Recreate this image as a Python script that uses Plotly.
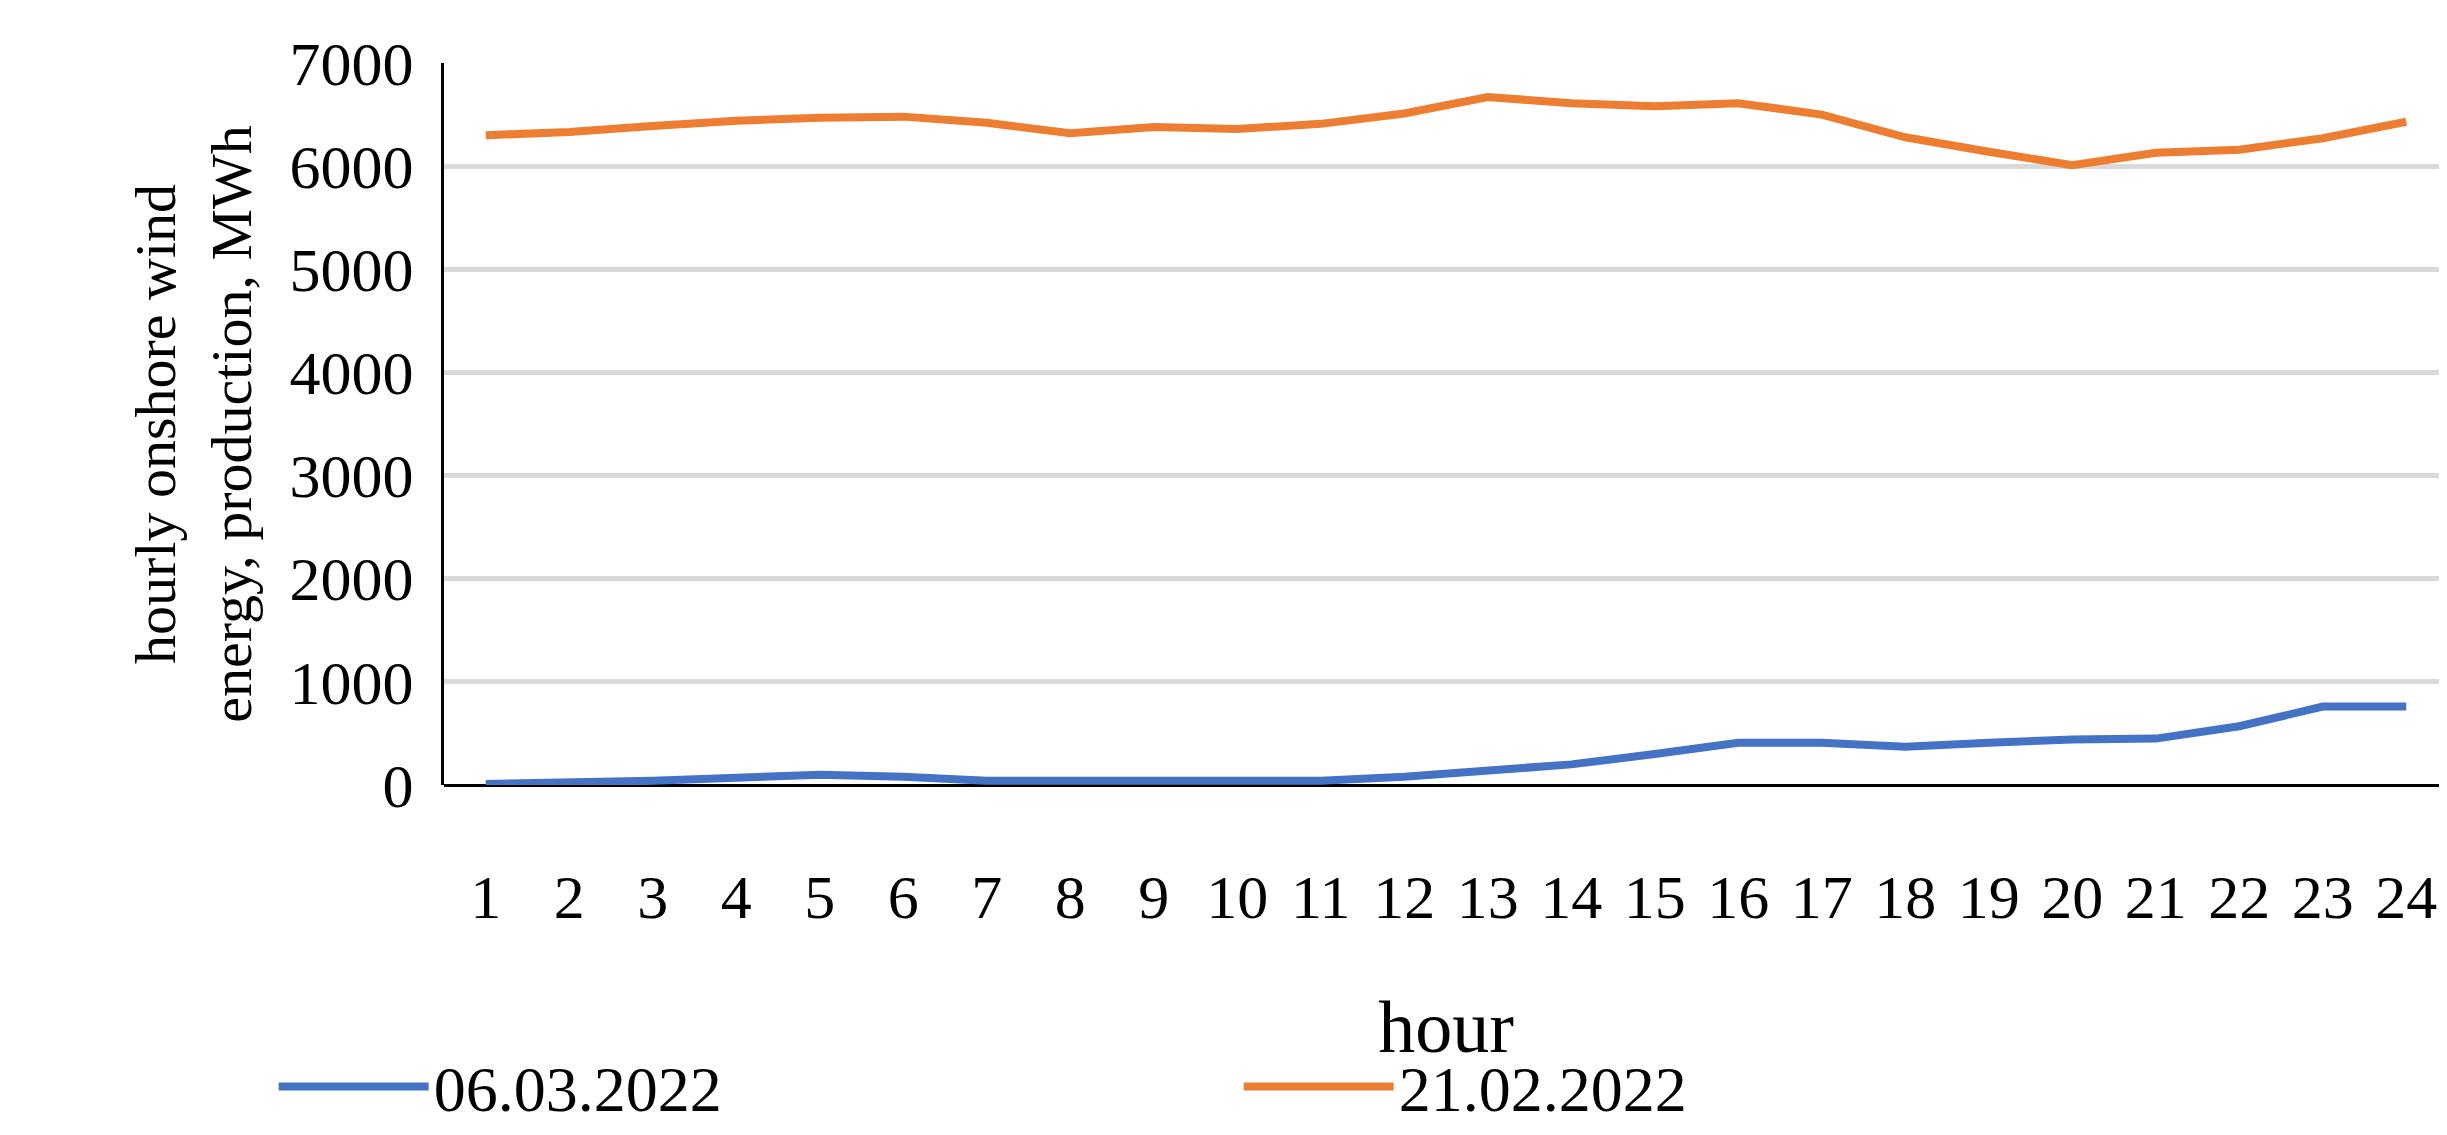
import plotly.graph_objects as go

hours = list(range(1, 25))
s_0603 = [10, 20, 40, 70, 100, 80, 40, 40, 40, 30, 40, 80, 140, 200, 300, 410, 410, 370, 410, 440, 450, 570, 760, 760]
s_2102 = [6300, 6330, 6390, 6440, 6470, 6480, 6420, 6320, 6380, 6360, 6410, 6510, 6670, 6610, 6580, 6610, 6500, 6280, 6140, 6010, 6130, 6160, 6270, 6430]

font = "Liberation Serif"
fig = go.Figure()
fig.add_trace(go.Scatter(x=hours, y=s_0603, mode="lines", name="06.03.2022",
                         line=dict(color="#4472C4", width=8)))
fig.add_trace(go.Scatter(x=hours, y=s_2102, mode="lines", name="21.02.2022",
                         line=dict(color="#ED7D31", width=8)))
fig.update_layout(
    width=2447, height=1135, plot_bgcolor="white", paper_bgcolor="white",
    font=dict(family=font, size=62, color="black"),
    margin=dict(l=436, r=7, t=55, b=338),
    showlegend=True,
    legend=dict(orientation="h", x=-0.085, y=-0.418, xanchor="left", yanchor="middle",
                font=dict(size=64), itemwidth=150, entrywidth=800, entrywidthmode="pixels"),
)
fig.update_xaxes(tickmode="array", tickvals=hours, ticktext=[str(h) for h in hours],
                 range=[0.5, 24.5], showline=False, ticks="", showgrid=False, automargin=False,
                 ticklabelstandoff=70,
                 title=dict(text="hour", standoff=70))
fig.update_yaxes(range=[0, 7000], dtick=1000, showgrid=True, gridcolor="#D9D9D9", gridwidth=5,
                 showline=True, linecolor="black", linewidth=3, zeroline=True,
                 zerolinecolor="black", zerolinewidth=3, ticks="", automargin=False,
                 ticklabelstandoff=15,
                 title=dict(text="hourly onshore wind<br>energy, production, MWh", standoff=20,
                            font=dict(size=58)))
fig.write_html("out.html")
